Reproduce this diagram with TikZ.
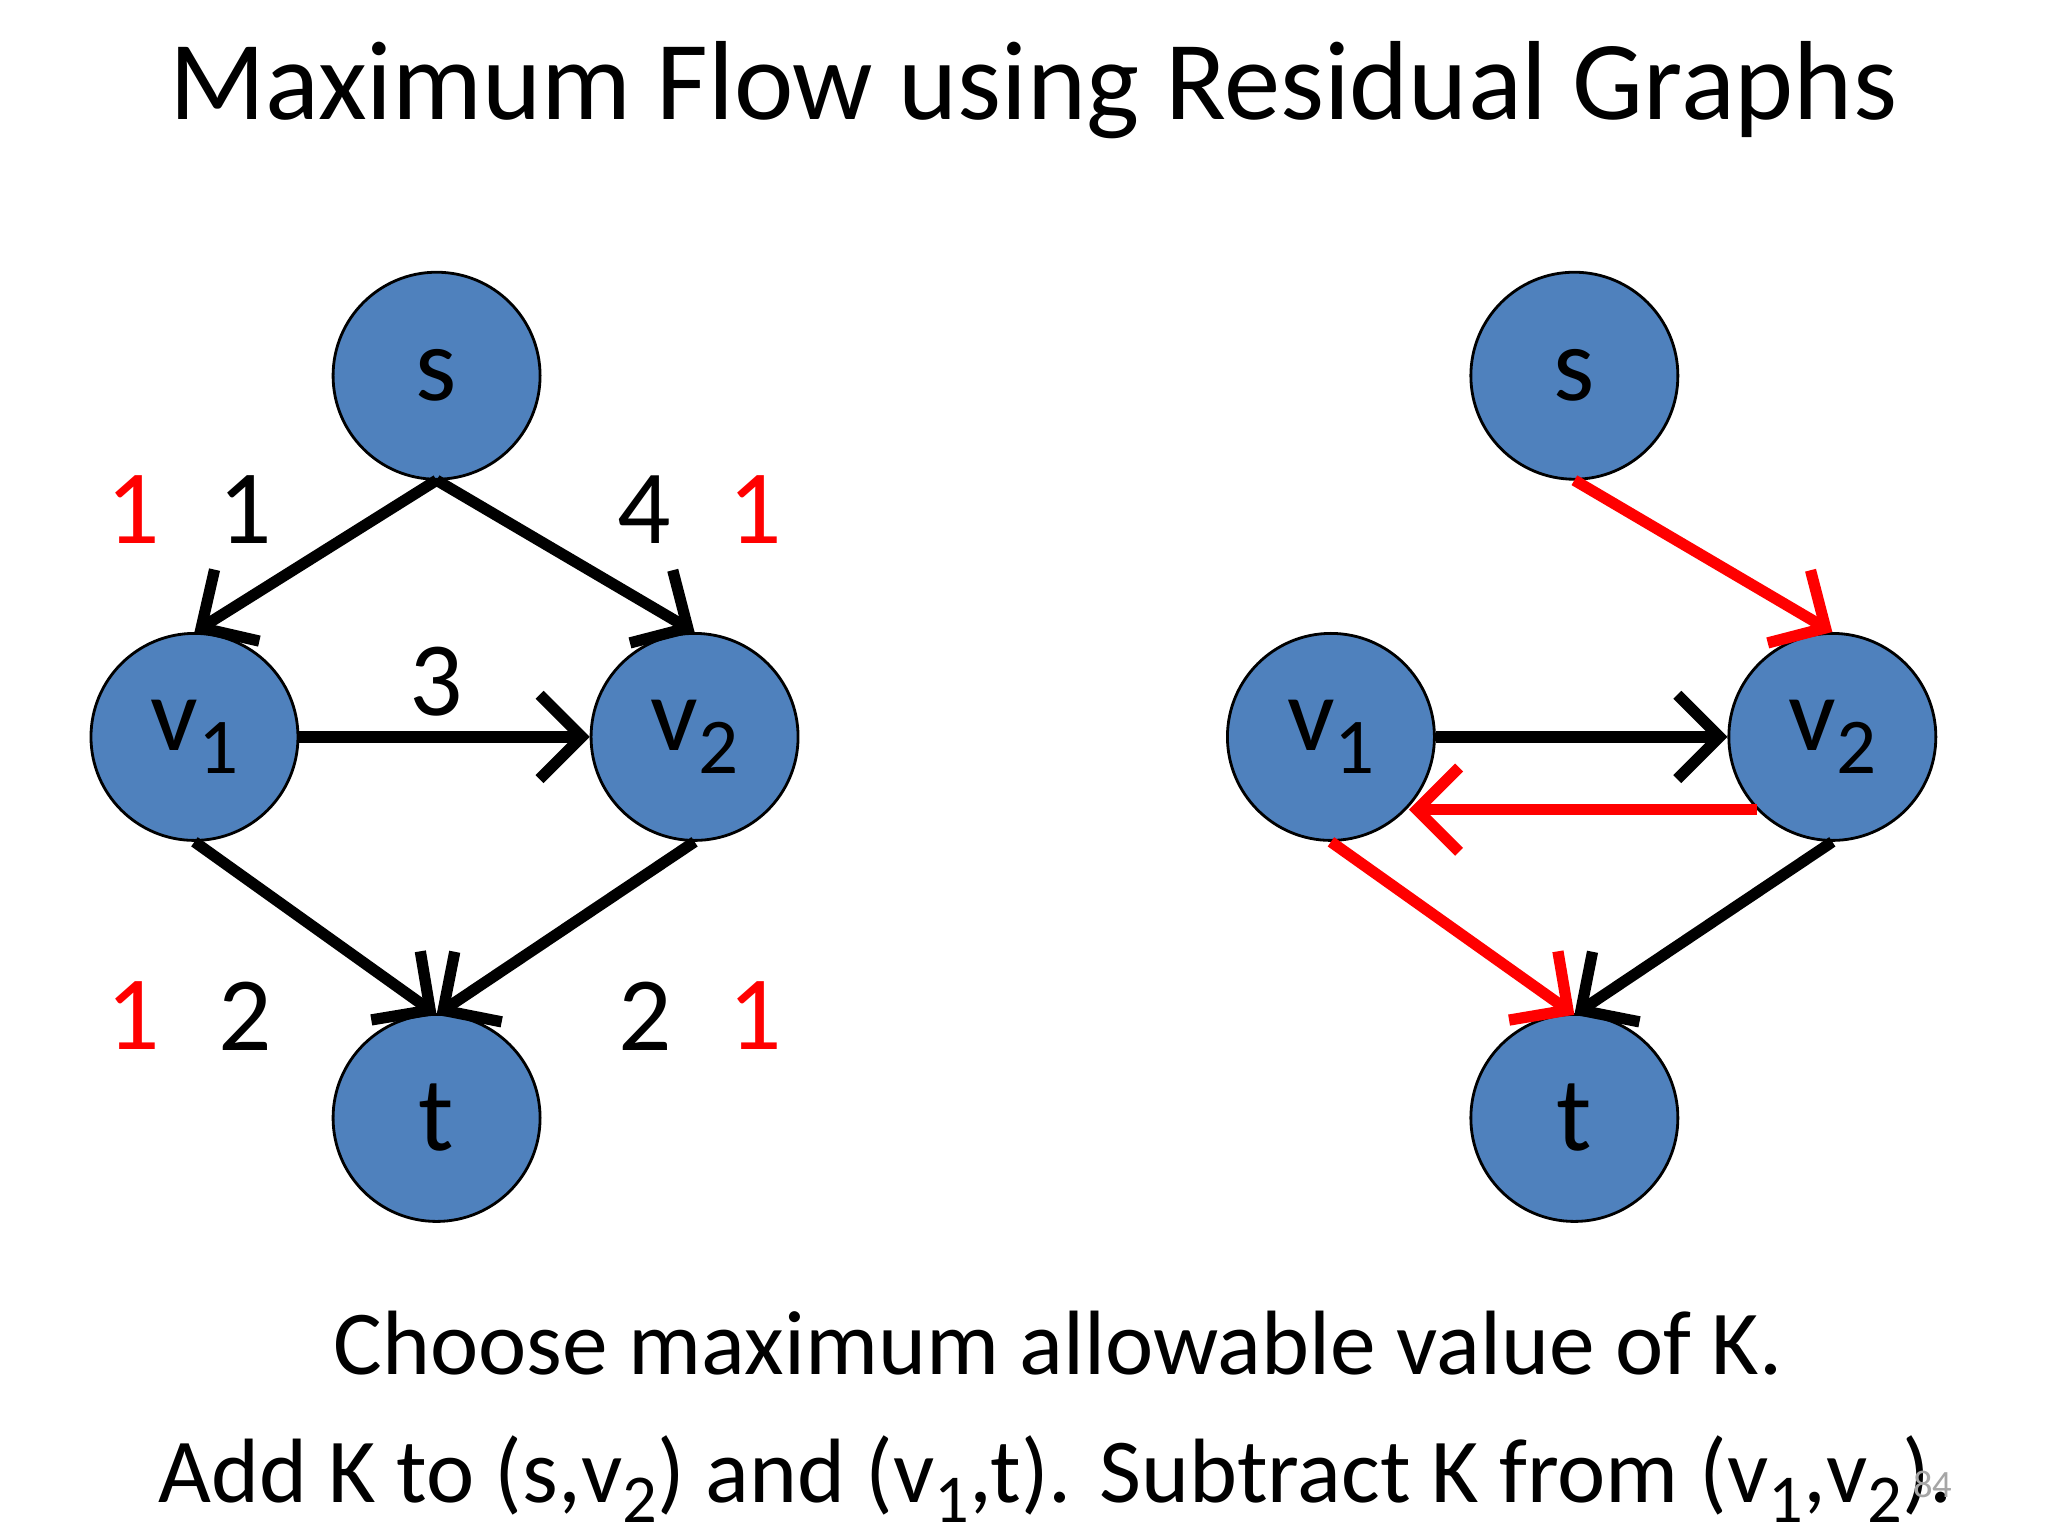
\documentclass[tikz,border=0pt]{standalone}
\usepackage{fontspec}
\setmainfont{Carlito}
\usetikzlibrary{arrows.meta}
\definecolor{nb}{HTML}{4F81BD}
\newcommand{\lowsub}[1]{\raisebox{-0.45ex}{\scalebox{0.75}{#1}}}
\begin{document}
\begin{tikzpicture}[x=0.01323cm,y=-0.01323cm,
  nd/.style={circle,fill=nb,draw=black,line width=0.8pt,minimum size=2.07cm,inner sep=0pt,font=\fontsize{30}{34}\selectfont},
  ed/.style={line width=3.2pt,-{Straight Barb[length=12pt,width=24pt,line width=3.2pt]}},
  red/.style={draw=red},
  lb/.style={font=\fontsize{30}{34}\selectfont},
  rl/.style={lb,text=red}]
\useasboundingbox (0,0) rectangle (1548,1161);
\node[font=\fontsize{32}{36}\selectfont] (title) at (781,68) {Maximum Flow using Residual Graphs};
% left graph
\node[nd] (s) at (330,284) {s};
\node[nd] (v1) at (147,557) {v\lowsub{1}};
\node[nd] (v2) at (525,557) {v\lowsub{2}};
\node[nd] (t) at (330,845) {t};
\coordinate (sb) at (330,363);
\coordinate (tt) at (330,767);
\draw[ed] (sb) -- (v1.north);
\draw[ed] (sb) -- (v2.north);
\draw[ed] (v1.east) -- (v2.west);
\draw[ed] (v1.south) -- (tt);
\draw[ed] (v2.south) -- (tt);
\node[rl] (a1) at (101,385) {1};
\node[lb] (a2) at (185,385) {1};
\node[lb] (a3) at (487,385) {4};
\node[rl] (a4) at (571,385) {1};
\node[lb] (a5) at (330,515) {3};
\node[rl] (a6) at (101,768) {1};
\node[lb] (a7) at (185,768) {2};
\node[lb] (a8) at (488,768) {2};
\node[rl] (a9) at (571,768) {1};
% right graph
\node[nd] (S) at (1190,284) {s};
\node[nd] (V1) at (1006,557) {v\lowsub{1}};
\node[nd] (V2) at (1385,557) {v\lowsub{2}};
\node[nd] (T) at (1190,845) {t};
\coordinate (Sb) at (1190,363);
\coordinate (Tt) at (1190,767);
\coordinate (V2r) at (1328,612);
\coordinate (V1r) at (1065,612);
\draw[ed,red] (Sb) -- (V2.north);
\draw[ed] (V1.east) -- (V2.west);
\draw[ed,red] (V2r) -- (V1r);
\draw[ed,red] (V1.south) -- (Tt);
\draw[ed] (V2.south) -- (Tt);
% text
\node[font=\fontsize{26}{30}\selectfont] (l1) at (800,1015) {Choose maximum allowable value of K.};
\node[font=\fontsize{26}{30}\selectfont] (l2) at (798,1118) {Add K to (s,v\lowsub{2}) and (v\lowsub{1},t). Subtract K from (v\lowsub{1},v\lowsub{2}).};
\node[font=\fontsize{11}{13}\selectfont,text=gray!70] (pg) at (1461,1122) {84};
\end{tikzpicture}
\end{document}
